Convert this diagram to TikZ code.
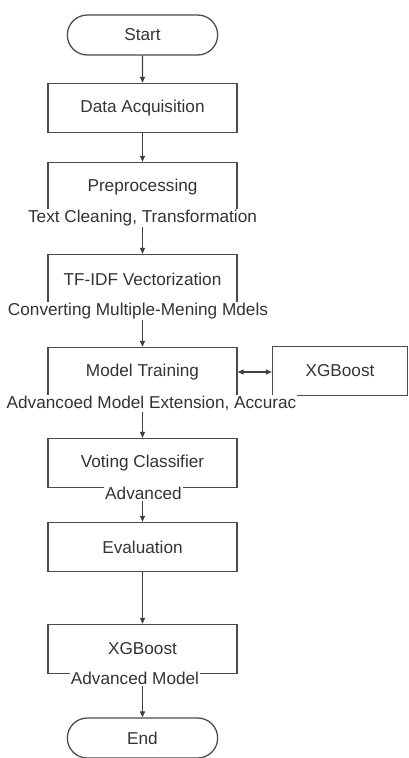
\documentclass[tikz,border=0pt]{standalone}
\usepackage{fontspec}
\setmainfont{Liberation Sans}
\usetikzlibrary{shapes.misc,arrows.meta}

\begin{document}
\begin{tikzpicture}[x=1pt, y=-1pt,
	font=\fontsize{17.2}{20}\selectfont,
	box/.style={draw=black!70, line width=1.3, minimum width=189, minimum height=49, text=black!80},
	term/.style={draw=black!70, line width=1.3, rounded rectangle, minimum width=157, minimum height=40, text=black!80},
	note/.style={fill=white, inner sep=1, text=black!80},
	flow/.style={-{Triangle[length=6, width=5]}, draw=black!75, line width=1.1}]
	\useasboundingbox (0,0) rectangle (409,758);

	\node[term] (start) at (142.5,35) {Start};
	\node[box] (data) at (142.5,108) {Data Acquisition};
	\node[box] (prep) at (142.5,187) {Preprocessing};
	\node[note] (prepn) at (142.5,218) {Text Cleaning, Transformation};
	\node[box] (tfidf) at (142.5,279) {TF-IDF Vectorization};
	\node[note] (tfidfn) at (138,311) {Converting Multiple-Mening Mdels};
	\node[box] (train) at (142.5,372) {Model Training};
	\node[box, minimum width=135] (xgbside) at (340,371) {XGBoost};
	\node[note] (trainn) at (151.5,403) {Advancoed Model Extension, Accurac};
	\node[box] (vote) at (142.5,463) {Voting Classifier};
	\node[note] (voten) at (143.5,493) {Advanced};
	\node[box] (eval) at (142.5,547) {Evaluation};
	\node[box] (xgb) at (142.5,649) {XGBoost};
	\node[note] (xgbn) at (135,678) {Advanced Model};
	\node[term] (end) at (142.5,738) {End};

	\draw[flow] (start) -- (data);
	\draw[flow] (data) -- (prep);
	\draw[flow] (prepn.south -| tfidf.north) -- (tfidf.north);
	\draw[flow] (tfidfn.south -| train.north) -- (train.north);
	\draw[flow, {Triangle[length=6, width=5]}-{Triangle[length=6, width=5]}] (train.east) -- (train.east -| xgbside.west);
	\draw[flow] (trainn.south -| vote.north) -- (vote.north);
	\draw[flow] (voten.south -| eval.north) -- (eval.north);
	\draw[flow] (eval) -- (xgb);
	\draw[flow] (xgbn.south -| end.north) -- (end.north);
\end{tikzpicture}
\end{document}
